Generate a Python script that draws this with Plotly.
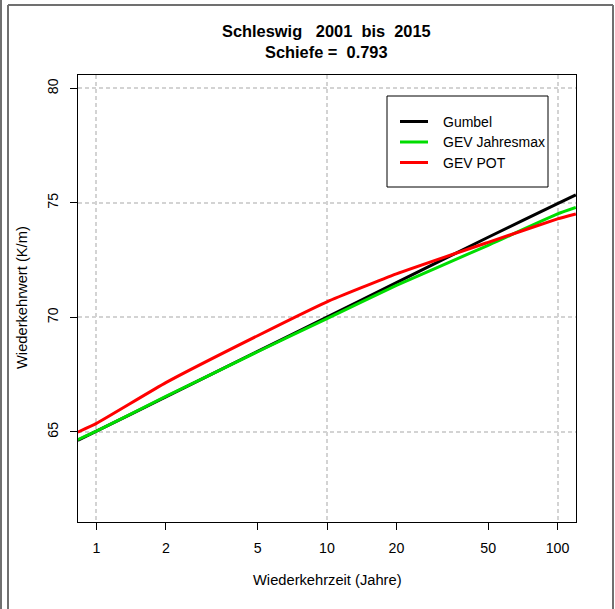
import plotly.graph_objects as go

# Return periods (years) and return levels (K/m) for the three fits
return_period = [0.83, 1, 2, 5, 10, 20, 50, 100, 120]
gumbel = [64.63, 65.03, 66.53, 68.52, 70.01, 71.52, 73.50, 74.97, 75.35]
gev_jahresmax = [64.66, 65.03, 66.55, 68.50, 69.95, 71.40, 73.15, 74.52, 74.80]
gev_pot = [64.99, 65.37, 67.15, 69.20, 70.68, 71.90, 73.28, 74.30, 74.52]

series_names = ["Gumbel", "GEV Jahresmax", "GEV POT"]
series_colors = ["#000000", "#00DD00", "#FF0000"]
series_values = [gumbel, gev_jahresmax, gev_pot]

x_ticks = [1, 2, 5, 10, 20, 50, 100]
x_grid = [1, 10, 100]
y_ticks = [65, 70, 75, 80]

title_line1 = "Schleswig\u00a0\u00a0\u00a02001\u00a0\u00a0bis\u00a0\u00a02015"
title_line2 = "Schiefe =\u00a0\u00a00.793"
x_title = "Wiederkehrzeit (Jahre)"
y_title = "Wiederkehrwert (K/m)"

W, H = 615, 609
L, R, T, B = 78, 576, 75, 522  # plot box in pixels
FONT = "Liberation Sans, Arial, Helvetica, sans-serif"
FS_TICK = 14.2
FS_AXIS = 14.7
FS_LEG = 14.0
FS_TITLE = 16.4


def px(x):
    return (x - L) / (R - L)


def py(y):
    return (B - y) / (B - T)


fig = go.Figure()
for name, color, vals in zip(series_names, series_colors, series_values):
    fig.add_trace(go.Scatter(
        x=return_period, y=vals, mode="lines", name=name,
        line=dict(color=color, width=3, shape="spline", smoothing=0.4),
        showlegend=False,
    ))

# invisible trace on the overlay axis that carries the decade gridlines
fig.add_trace(go.Scatter(x=[1, 100], y=[65, 65], xaxis="x2", mode="lines",
                         line=dict(width=0), showlegend=False, hoverinfo="skip"))

grid_style = dict(gridcolor="#D3D3D3", gridwidth=2, griddash="4px,3px")

fig.update_layout(
    width=W, height=H,
    margin=dict(l=L, r=W - R, t=T, b=H - B, pad=0),
    paper_bgcolor="white", plot_bgcolor="white",
    font=dict(family=FONT, size=FS_TICK, color="black"),
    showlegend=False,
    xaxis=dict(
        type="log", range=[-0.08, 2.08], tickvals=x_ticks,
        ticktext=[str(v) for v in x_ticks],
        showgrid=False, zeroline=False,
        showline=True, mirror=True, linecolor="black", linewidth=1,
        ticks="outside", ticklen=7, tickcolor="black", tickwidth=1,
        ticklabelstandoff=6,
    ),
    xaxis2=dict(
        type="log", range=[-0.08, 2.08], tickvals=x_grid, overlaying="x",
        showticklabels=False, ticks="", showgrid=True, zeroline=False,
        showline=False, **grid_style,
    ),
    yaxis=dict(
        range=[61.065, 80.586], tickvals=y_ticks, tickangle=-90,
        showgrid=True, zeroline=False, **grid_style,
        showline=True, mirror=True, linecolor="black", linewidth=1,
        ticks="outside", ticklen=7, tickcolor="black", tickwidth=1,
        ticklabelstandoff=6,
    ),
)

ann = []
ann.append(dict(text="<b>" + title_line1 + "</b>", x=px(326), y=py(31),
                font=dict(size=FS_TITLE)))
ann.append(dict(text="<b>" + title_line2 + "</b>", x=px(326), y=py(51.5),
                font=dict(size=FS_TITLE)))
ann.append(dict(text=x_title, x=px(327), y=py(580), font=dict(size=FS_AXIS)))
ann.append(dict(text=y_title, x=px(22), y=py(298), textangle=-90,
                font=dict(size=FS_AXIS)))

shapes = []
# legend box
shapes.append(dict(type="rect", xref="paper", yref="paper",
                   x0=px(387), x1=px(548), y0=py(96), y1=py(187),
                   line=dict(color="black", width=1), fillcolor="white",
                   layer="above"))
legend_rows = [121.5, 142, 162.5]
for name, color, yy in zip(series_names, series_colors, legend_rows):
    shapes.append(dict(type="line", xref="paper", yref="paper",
                       x0=px(400), x1=px(428), y0=py(yy), y1=py(yy),
                       line=dict(color=color, width=3), layer="above"))
    ann.append(dict(text=name, x=px(440.5), y=py(yy), xanchor="left",
                    font=dict(size=FS_LEG)))

# page frame around the figure
frame = dict(color="#707070", width=2)
shapes.append(dict(type="line", xref="paper", yref="paper",
                   x0=px(1), x1=px(1), y0=py(0), y1=py(609), line=frame))
shapes.append(dict(type="line", xref="paper", yref="paper",
                   x0=px(8), x1=px(8), y0=py(5), y1=py(609), line=frame))
shapes.append(dict(type="line", xref="paper", yref="paper",
                   x0=px(8), x1=px(613), y0=py(5), y1=py(5), line=frame))
shapes.append(dict(type="line", xref="paper", yref="paper",
                   x0=px(613), x1=px(613), y0=py(5), y1=py(609), line=frame))

for a in ann:
    a.setdefault("xref", "paper")
    a.setdefault("yref", "paper")
    a.setdefault("showarrow", False)
    a.setdefault("yanchor", "middle")
    a.setdefault("xanchor", "center")

fig.update_layout(annotations=ann, shapes=shapes)
fig.write_html("out.html")
